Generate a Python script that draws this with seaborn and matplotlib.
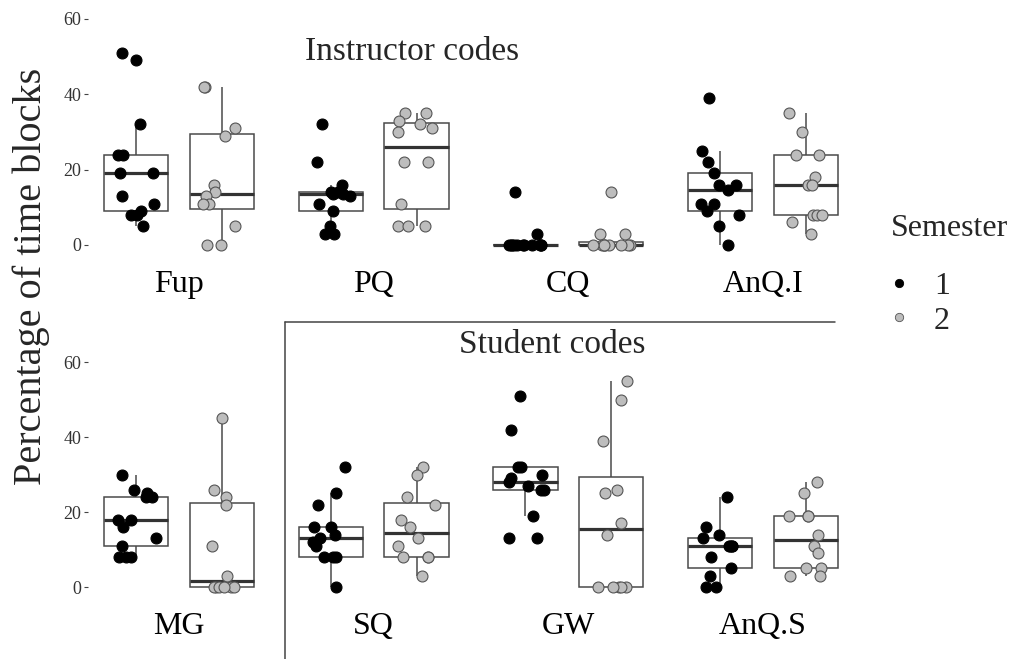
import numpy as np
import pandas as pd
import matplotlib
matplotlib.use("Agg")
import matplotlib.pyplot as plt
from matplotlib.lines import Line2D
import seaborn as sns

# ---- data: percentage of time blocks per code, by semester ----
instructor_codes = ["Fup", "PQ", "CQ", "AnQ.I"]
student_codes = ["MG", "SQ", "GW", "AnQ.S"]
semesters = ["1", "2"]

fup_s1 = [51, 49, 32, 24, 24, 19, 19, 13, 11, 9, 8, 8, 5]
fup_s2 = [42, 42, 31, 29, 16, 14, 13, 11, 11, 5, 0, 0]
pq_s1 = [32, 22, 16, 14, 14, 13.5, 13.5, 13, 11, 9, 5, 3, 3]
pq_s2 = [35, 35, 33, 32, 31, 30, 22, 22, 11, 5, 5, 5]
cq_s1 = [14, 3, 0, 0, 0, 0, 0, 0, 0, 0, 0, 0, 0]
cq_s2 = [14, 3, 3, 0, 0, 0, 0, 0, 0, 0, 0, 0]
anqi_s1 = [39, 25, 22, 19, 16, 16, 14.5, 11, 11, 9, 8, 5, 0]
anqi_s2 = [35, 30, 24, 24, 18, 16, 16, 8, 8, 8, 6, 3]

mg_s1 = [30, 26, 25, 24, 24, 18, 18, 16, 13, 11, 8, 8, 8]
mg_s2 = [45, 26, 24, 22, 11, 3, 0, 0, 0, 0, 0, 0]
sq_s1 = [32, 25, 22, 16, 16, 14, 13, 12, 11, 8, 8, 8, 0]
sq_s2 = [32, 30, 24, 22, 18, 16, 13, 11, 8, 8, 8, 3]
gw_s1 = [51, 42, 32, 32, 30, 29, 28, 27, 26, 26, 19, 13, 13]
gw_s2 = [55, 50, 39, 26, 25, 17, 14, 0, 0, 0, 0, 0]
anqs_s1 = [24, 16, 14, 13, 11, 11, 11, 11, 8, 5, 3, 0, 0]
anqs_s2 = [28, 25, 19, 19, 19, 14, 11, 9, 5, 5, 3, 3]

y_ticks = [0, 20, 40, 60]

top_values = {
    "Fup": (fup_s1, fup_s2),
    "PQ": (pq_s1, pq_s2),
    "CQ": (cq_s1, cq_s2),
    "AnQ.I": (anqi_s1, anqi_s2),
}
bottom_values = {
    "MG": (mg_s1, mg_s2),
    "SQ": (sq_s1, sq_s2),
    "GW": (gw_s1, gw_s2),
    "AnQ.S": (anqs_s1, anqs_s2),
}

# ---- styling ----
SERIF = ["Liberation Serif", "DejaVu Serif"]
BOX_LINE = "#4a4a4a"
POINT_FILL = {"1": "black", "2": "#bdbdbd"}
POINT_EDGE = {"1": "black", "2": "#555555"}
BOX_WIDTH = 0.88
BOX_GAP = 0.25
X_PAD = 0.468  # horizontal room beyond the outer categories

sns.set_theme(style="white")
plt.rcParams["font.family"] = SERIF

W, H = 1018, 659
fig = plt.figure(figsize=(W / 100, H / 100), dpi=100)
ax_top = fig.add_axes([88 / W, (H - 256.3) / H, 766 / W, 248.8 / H])
ax_bot = fig.add_axes([88 / W, (H - 598.3) / H, 766 / W, 247.5 / H])

rng = np.random.default_rng(11)


def long_table(codes, values):
    rows = []
    for i, code in enumerate(codes):
        for sem, vals in zip(semesters, values[code]):
            for v in vals:
                rows.append({"code": code, "pos": i, "Semester": sem, "pct": v})
    return pd.DataFrame(rows)


def draw_panel(ax, codes, values):
    df = long_table(codes, values)
    sns.boxplot(
        data=df, x="pos", y="pct", hue="Semester", hue_order=semesters,
        native_scale=True, orient="x", width=BOX_WIDTH, gap=BOX_GAP,
        palette={"1": "white", "2": "white"}, linecolor=BOX_LINE,
        linewidth=1.1, showfliers=False, legend=False,
        medianprops=dict(linewidth=2.3, color="#333333"),
        capprops=dict(visible=False), ax=ax,
    )
    # jittered points, dodged to sit over their semester's box
    slot = BOX_WIDTH / len(semesters)
    for k, sem in enumerate(semesters):
        sub = df[df["Semester"] == sem]
        offset = (k - (len(semesters) - 1) / 2) * slot
        xs = sub["pos"].to_numpy() + offset + rng.uniform(-0.1, 0.1, len(sub))
        sns.scatterplot(
            x=xs, y=sub["pct"].to_numpy(), color=POINT_FILL[sem],
            edgecolor=POINT_EDGE[sem], linewidth=0.8, s=62,
            legend=False, zorder=4, ax=ax,
        )
    ax.set_xlim(-X_PAD, len(codes) - 1 + X_PAD)
    ax.set_ylim(-3, 63)
    ax.set_xticks(range(len(codes)))
    ax.set_xticklabels(codes, fontsize=23, color="black")
    ax.set_yticks(y_ticks)
    ax.set_yticklabels([str(t) for t in y_ticks], fontsize=13, color="#333333")
    ax.tick_params(axis="x", length=0, pad=10)
    ax.tick_params(axis="y", length=3, width=0.8, color="#444444",
                   direction="out", left=True, pad=2)
    ax.set_xlabel("")
    ax.set_ylabel("")
    for sp in ax.spines.values():
        sp.set_visible(False)
    ax.patch.set_alpha(0)


draw_panel(ax_top, instructor_codes, top_values)
draw_panel(ax_bot, student_codes, bottom_values)

# group headings and the bracket framing the student codes
fig.text(412 / W, 1 - 52 / H, "Instructor codes", fontsize=24,
         ha="center", va="center")
fig.text(552 / W, 1 - 345 / H, "Student codes", fontsize=24,
         ha="center", va="center")
fig.add_artist(Line2D([285 / W, 285 / W], [1 - 322 / H, 0], color="#444444",
                      linewidth=1.1, transform=fig.transFigure))
fig.add_artist(Line2D([285 / W, 835 / W], [1 - 322 / H, 1 - 322 / H],
                      color="#444444", linewidth=1.1, transform=fig.transFigure))

# shared y label
fig.text(31 / W, 1 - 276 / H, "Percentage of time blocks", fontsize=29,
         rotation=90, ha="center", va="center")

# legend: title set as its own text, keys below it
fig.text(891 / W, 1 - 228 / H, "Semester", fontsize=23, ha="left", va="center")
handles = [
    Line2D([], [], linestyle="none", marker="o", markersize=6,
           markerfacecolor=POINT_FILL[s], markeredgecolor=POINT_EDGE[s],
           markeredgewidth=0.6)
    for s in semesters
]
fig.legend(handles, semesters, loc="upper left",
           bbox_to_anchor=(883 / W, 1 - 272 / H), frameon=False,
           fontsize=23, handletextpad=0.6, labelspacing=0.15, borderpad=0,
           handlelength=1.0, borderaxespad=0)

fig.savefig("out.png", dpi=100, facecolor="white")
